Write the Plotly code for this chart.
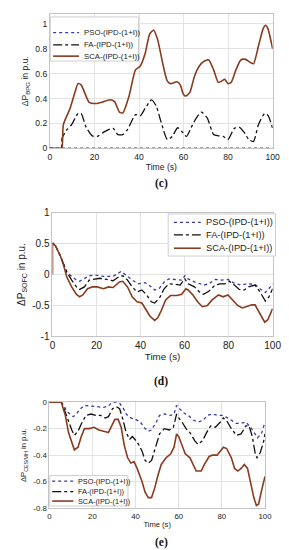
import plotly.graph_objects as go

# ---------- Panel (c): ΔP_BPG ----------
t_c_sca = [0, 5, 5.4, 6, 9, 11.2, 12.6, 14, 15.5, 17.6, 20.5, 23.4, 26.9, 29, 31.2, 32.7, 35.5, 38.4, 40.5,
           42.7, 44.8, 46.6, 48.4, 50.6, 52.7, 54.2, 57, 58.5, 59.9, 61, 62.8, 64.9, 67, 69.2, 71.3, 73.5,
           75.6, 77.1, 78.5, 79.9, 81.4, 83.5, 85.7, 87.8, 90, 91.4, 93.6, 95.7, 96.8, 97.9, 100]
v_c_sca = [0, 0, 0.0, 0.19, 0.32, 0.45, 0.52, 0.51, 0.45, 0.37, 0.36, 0.37, 0.39, 0.375, 0.29, 0.285, 0.42, 0.63, 0.66,
           0.76, 0.92, 0.95, 0.87, 0.685, 0.54, 0.52, 0.535, 0.51, 0.435, 0.42, 0.45, 0.58, 0.66, 0.70, 0.71, 0.63,
           0.53, 0.54, 0.555, 0.52, 0.53, 0.63, 0.71, 0.715, 0.69, 0.68, 0.82, 0.96, 0.99, 0.96, 0.80]

t_c_fa = [0, 5, 5.4, 7.6, 9.7, 12.6, 14, 16.2, 19, 21.2, 24.1, 26.9, 28.4, 30.5, 32.7, 34.8, 38.4, 40.5, 42.7,
          45.6, 47.7, 49.9, 52.7, 54.9, 57.3, 59.2, 61.3, 63.5, 65.6, 68, 70.6, 73.5, 75.6, 77.8, 79.9, 82.8,
          85, 87.1, 89.3, 91.4, 93.6, 96.4, 97.9, 100]
v_c_fa = [0, 0, 0.08, 0.15, 0.19, 0.28, 0.28, 0.17, 0.10, 0.095, 0.13, 0.155, 0.16, 0.11, 0.11, 0.15, 0.27, 0.26, 0.32,
          0.39, 0.34, 0.21, 0.07, 0.095, 0.165, 0.135, 0.095, 0.17, 0.24, 0.29, 0.245, 0.11, 0.10, 0.095, 0.07, 0.16,
          0.17, 0.13, 0.07, 0.055, 0.19, 0.28, 0.265, 0.16]

t_c_pso = [0, 100]
v_c_pso = [0, 0]

# ---------- Panel (d): ΔP_SOFC ----------
t_d_sca = [0, 0, 1.4, 3.6, 5.1, 6.5, 8.7, 10.9, 12.3, 13.8, 15.9, 18.1, 20.3, 23.2, 25.4, 27.5, 30.4, 31.9, 34.1,
           36.2, 38.4, 40.6, 42, 44.2, 46.4, 47.8, 49.3, 51.4, 53.6, 56.5, 58.7, 60.6, 61.6, 63.8, 65.9, 68.1,
           70.3, 72.5, 75.4, 77.5, 79.7, 81.9, 84.1, 86.2, 88.4, 90.6, 92, 94.2, 96.4, 97.8, 100]
v_d_sca = [0, 0.51, 0.46, 0.30, 0.14, -0.04, -0.20, -0.32, -0.36, -0.33, -0.23, -0.20, -0.20, -0.23, -0.20, -0.21,
           -0.12, -0.11, -0.20, -0.36, -0.44, -0.46, -0.54, -0.67, -0.74, -0.70, -0.59, -0.41, -0.34, -0.34, -0.32,
           -0.23, -0.25, -0.33, -0.44, -0.52, -0.50, -0.41, -0.33, -0.36, -0.33, -0.41, -0.50, -0.54, -0.52, -0.49,
           -0.49, -0.62, -0.77, -0.73, -0.55]

t_d_fa = [0, 1.4, 3.6, 5.1, 6.5, 8.7, 10.9, 12.3, 14.5, 16.7, 18.8, 21.7, 24.6, 27.5, 30.4, 31.9, 34.1, 36.2, 38.4,
          40.6, 42.8, 44.9, 46.4, 48.6, 50.7, 52.9, 55.8, 58, 60.1, 61.6, 64.5, 66.7, 68.6, 71, 73.9, 76.1, 78.3,
          80.4, 82.6, 84.8, 87, 89.1, 92, 94.2, 96.7, 98.3, 100]
v_d_fa = [0.51, 0.46, 0.30, 0.15, 0.04, -0.09, -0.20, -0.24, -0.20, -0.09, -0.08, -0.06, -0.08, -0.10, -0.03, -0.02,
          -0.09, -0.20, -0.28, -0.25, -0.33, -0.44, -0.46, -0.38, -0.23, -0.15, -0.16, -0.17, -0.07, -0.15, -0.20,
          -0.28, -0.32, -0.27, -0.17, -0.15, -0.15, -0.11, -0.17, -0.24, -0.25, -0.20, -0.17, -0.28, -0.43, -0.36,
          -0.23]

t_d_pso = [0, 1.4, 3.6, 5.1, 6.5, 8.7, 10.9, 12.3, 14.5, 16.7, 19.6, 23.2, 27.5, 31.2, 34.1, 36.2, 39.1, 42, 44.2,
           46.4, 48.6, 50.7, 52.9, 56.5, 58.7, 60.1, 61.6, 64.5, 66.7, 68.8, 71, 73.9, 76.8, 79.7, 82.6, 85.5,
           88.4, 92, 94.2, 96.7, 98.3, 100]
v_d_pso = [0.51, 0.46, 0.30, 0.15, 0.04, -0.03, -0.09, -0.11, -0.07, -0.02, -0.01, -0.03, -0.03, 0.05, -0.03, -0.09,
           -0.15, -0.13, -0.18, -0.25, -0.22, -0.12, -0.07, -0.09, -0.09, -0.02, -0.07, -0.12, -0.15, -0.17, -0.15,
           -0.08, -0.09, -0.08, -0.14, -0.17, -0.15, -0.16, -0.23, -0.29, -0.23, -0.15]

# ---------- Panel (e): ΔP_CES/MH ----------
t_e_sca = [0, 5.5, 5.9, 7.4, 8.9, 10.4, 11.6, 13.3, 14.8, 16.3, 18.5, 20.7, 23, 25.2, 27.4, 28.9, 30.4, 31.9, 33.3,
           34.8, 36.3, 37.8, 39.3, 40.7, 43, 44.4, 45.9, 47.4, 48.9, 50.4, 51.9, 54.1, 56.3, 57.8, 59, 60, 61.5,
           63, 65.2, 66.7, 68.1, 70.4, 71.9, 74.1, 75.6, 77.8, 79.3, 80.7, 82.2, 84.4, 85.9, 87.4, 88.9, 90.4,
           91.9, 93.3, 94.8, 96, 97, 98.5, 100]
v_e_sca = [0, 0, -0.02, -0.10, -0.23, -0.31, -0.36, -0.34, -0.26, -0.20, -0.20, -0.19, -0.21, -0.22, -0.23, -0.18,
           -0.13, -0.13, -0.19, -0.33, -0.42, -0.46, -0.45, -0.50, -0.60, -0.68, -0.72, -0.72, -0.645, -0.55, -0.47,
           -0.42, -0.39, -0.34, -0.24, -0.26, -0.33, -0.39, -0.42, -0.47, -0.52, -0.52, -0.47, -0.41, -0.40, -0.40,
           -0.37, -0.34, -0.35, -0.42, -0.50, -0.52, -0.50, -0.47, -0.50, -0.60, -0.72, -0.78, -0.77, -0.66, -0.56]

t_e_fa = [0, 5.5, 5.9, 7.4, 8.9, 10.4, 11.6, 13.3, 14.8, 17, 19.3, 21.5, 23.7, 25.9, 27.4, 29.3, 31.1, 32.6, 34.1,
          35.6, 37.3, 38.5, 40.7, 43, 44.4, 45.9, 47.4, 49.6, 51.1, 53.3, 55.6, 57.5, 59, 60, 61.5, 63.4, 65.2,
          67.4, 68.9, 71.1, 72.9, 74.8, 77, 79.3, 80.7, 82.2, 84.4, 86.7, 88.9, 91.1, 92.6, 94.1, 95.6, 96.3,
          97.8, 99.3, 100]
v_e_fa = [0, 0, -0.01, -0.08, -0.15, -0.21, -0.25, -0.22, -0.165, -0.10, -0.09, -0.10, -0.10, -0.12, -0.11, -0.05,
          -0.035, -0.05, -0.13, -0.23, -0.28, -0.26, -0.30, -0.37, -0.44, -0.46, -0.44, -0.33, -0.24, -0.20, -0.21,
          -0.19, -0.09, -0.12, -0.15, -0.20, -0.23, -0.29, -0.32, -0.29, -0.23, -0.18, -0.19, -0.15, -0.12, -0.14,
          -0.20, -0.25, -0.24, -0.18, -0.18, -0.26, -0.40, -0.42, -0.38, -0.30, -0.24]

t_e_pso = [0, 5.5, 6.7, 8.1, 9.6, 11.1, 12.6, 14.1, 16.3, 19.3, 22.2, 25.2, 27.4, 28.9, 31.1, 32.6, 34.1, 35.6, 37.8,
           40, 42.2, 44.4, 45.9, 47.4, 49.6, 51.1, 53.3, 56.3, 57.8, 59, 60.4, 62.2, 64.4, 66.7, 68.9, 71.1, 73.3,
           75.6, 77.8, 80, 82.2, 84.4, 86.7, 88.9, 91.1, 93.3, 95.6, 96.6, 98.5, 100]
v_e_pso = [0, 0, -0.025, -0.07, -0.09, -0.11, -0.09, -0.055, -0.025, -0.03, -0.035, -0.04, -0.03, -0.005, 0, -0.01,
           -0.04, -0.09, -0.12, -0.13, -0.15, -0.20, -0.22, -0.21, -0.15, -0.10, -0.09, -0.10, -0.09, -0.025, -0.05,
           -0.08, -0.10, -0.135, -0.15, -0.14, -0.10, -0.09, -0.10, -0.10, -0.115, -0.14, -0.16, -0.16, -0.15, -0.19,
           -0.25, -0.27, -0.23, -0.15]

names = ["PSO-(IPD-(1+I))", "FA-(IPD-(1+I))", "SCA-(IPD-(1+I))"]
x_ticks = [0, 20, 40, 60, 80, 100]

COL_PSO = "#3a3aa8"
COL_FA = "#111111"
COL_SCA = "#8a3b1f"
FONT = "Liberation Sans, Arial, sans-serif"
W, H = 289, 550

fig = go.Figure()

panels = [
    ("x", "y", [(t_c_pso, v_c_pso), (t_c_fa, v_c_fa), (t_c_sca, v_c_sca)], "spline"),
    ("x2", "y2", [(t_d_pso, v_d_pso), (t_d_fa, v_d_fa), (t_d_sca, v_d_sca)], "linear"),
    ("x3", "y3", [(t_e_pso, v_e_pso), (t_e_fa, v_e_fa), (t_e_sca, v_e_sca)], "linear"),
]
styles = [
    dict(color=COL_PSO, dash="dot", width=1.3),
    dict(color=COL_FA, dash="dashdot", width=1.3),
    dict(color=COL_SCA, dash="solid", width=1.6),
]
for xa, ya, series, shape in panels:
    for (tt, vv), nm, st in zip(series, names, styles):
        fig.add_trace(go.Scatter(x=tt, y=vv, mode="lines", name=nm, xaxis=xa, yaxis=ya, showlegend=False,
                                 line=dict(shape=shape, smoothing=0.6 if shape == "spline" else None, **st)))

axis_common = dict(showgrid=True, gridcolor="#e3e3e3", gridwidth=1, showline=True, linecolor="#c4c4c4",
                   linewidth=1, mirror=True, zeroline=False, ticks="", color="#222")

fig.update_layout(
    width=W, height=H, margin=dict(l=0, r=0, t=0, b=0),
    paper_bgcolor="white", plot_bgcolor="white",
    font=dict(family=FONT, size=10, color="#222"),
    showlegend=False,
    xaxis=dict(domain=[0.1408, 0.9446], anchor="y", range=[0, 100], tickvals=x_ticks,
               title=dict(text="Time (s)", standoff=3, font=dict(size=8.6)), tickfont=dict(size=8.6), **axis_common),
    yaxis=dict(domain=[0.7509, 1.0], anchor="x", range=[0, 1.08], tickvals=[0, 0.2, 0.4, 0.6, 0.8, 1],
               ticktext=["0", "0.2", "0.4", "0.6", "0.8", "1"],
               title=dict(text="ΔP<sub>BPG</sub> in p.u.", standoff=5, font=dict(size=8.6)), tickfont=dict(size=8.6),
               **axis_common),
    xaxis2=dict(domain=[0.1498, 0.9446], anchor="y2", range=[0, 100], tickvals=x_ticks,
                title=dict(text="Time (s)", standoff=2, font=dict(size=9.8)), tickfont=dict(size=10), **axis_common),
    yaxis2=dict(domain=[0.4018, 0.6315], anchor="x2", range=[-1, 1], tickvals=[-1, -0.5, 0, 0.5, 1],
                ticktext=["-1", "-0.5", "0", "0.5", "1"],
                title=dict(text="ΔP<sub>SOFC</sub> in p.u.", standoff=4, font=dict(size=10)),
                tickfont=dict(size=10), **axis_common),
    xaxis3=dict(domain=[0.1384, 0.9170], anchor="y3", range=[0, 100], tickvals=x_ticks,
                title=dict(text="Time (s)", standoff=2, font=dict(size=7.6)), tickfont=dict(size=7.8), **axis_common),
    yaxis3=dict(domain=[0.0831, 0.28], anchor="x3", range=[-0.8, 0], tickvals=[-0.8, -0.6, -0.4, -0.2, 0],
                ticktext=["-0.8", "-0.6", "-0.4", "-0.2", "0"],
                title=dict(text="ΔP<sub>CES/MH</sub> in p.u.", standoff=5, font=dict(size=7.6)),
                tickfont=dict(size=7.8), **axis_common),
)

# ---------- compact legends (box, key samples and labels), placed in pixel positions ----------
def px(xp):
    return xp / W


def py(yp):
    return 1 - yp / H


legend_specs = [
    # box (x0, y0, x1, y1), key x0, key x1, text x, row ys, font size
    dict(box=(41, 3, 133, 48), k0=44, k1=71, tx=74, rows=(19, 31.5, 43), fs=7.8),
    dict(box=(164, 204, 276, 247), k0=170, k1=198, tx=201, rows=(212.7, 225.3, 239), fs=9.3),
    dict(box=(40.5, 471, 122, 502), k0=43, k1=65, tx=67.5, rows=(476.7, 487.3, 497), fs=7.3),
]
for spec in legend_specs:
    x0, y0, x1, y1 = spec["box"]
    fig.add_shape(type="rect", xref="paper", yref="paper", x0=px(x0), x1=px(x1), y0=py(y1), y1=py(y0),
                  line=dict(color="#cfcfcf", width=1), fillcolor="white", layer="above")
    for nm, st, ry in zip(names, styles, spec["rows"]):
        fig.add_shape(type="line", xref="paper", yref="paper", x0=px(spec["k0"]), x1=px(spec["k1"]),
                      y0=py(ry), y1=py(ry), line=dict(color=st["color"], dash=st["dash"], width=st["width"]),
                      layer="above")
        fig.add_annotation(text=nm, xref="paper", yref="paper", x=px(spec["tx"]), y=py(ry), showarrow=False,
                           xanchor="left", yanchor="middle", font=dict(size=spec["fs"], color="#222"))

for label, ypix in [("(c)", 173), ("(d)", 375), ("(e)", 539.5)]:
    fig.add_annotation(text="<b>" + label + "</b>", xref="paper", yref="paper", x=157 / W, y=py(ypix),
                       showarrow=False, font=dict(family="Liberation Serif, Times New Roman, serif", size=11.5,
                                                  color="#111"), xanchor="center", yanchor="middle",
                       borderpad=0)

fig.write_html("out.html")
